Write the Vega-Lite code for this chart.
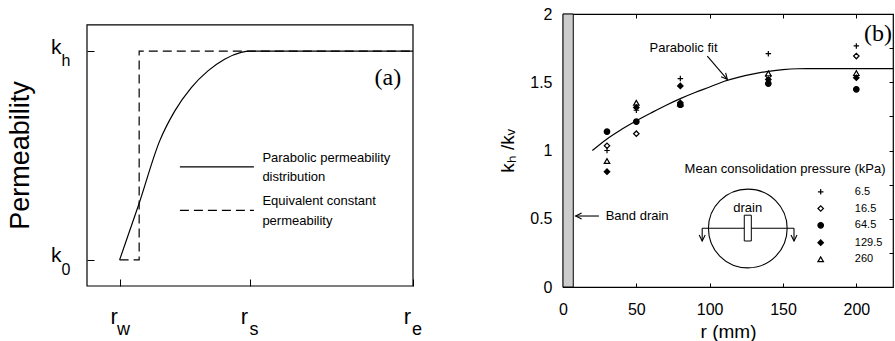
{
  "$schema": "https://vega.github.io/schema/vega-lite/v6.json",
  "background": "white",
  "padding": {"left": 6, "top": 5, "right": 0, "bottom": 0},
  "spacing": 75,
  "bounds": "full",
  "config": {
    "view": {"stroke": "black", "strokeWidth": 1.2},
    "axis": {"domain": false, "grid": false, "labelFont": "Liberation Sans", "titleFont": "Liberation Sans", "labelColor": "black", "titleColor": "black", "tickColor": "black", "tickWidth": 1, "titleFontWeight": "normal"}
  },
  "hconcat": [
    {
      "width": 326,
      "height": 272,
      "view": {"stroke": null},
      "layer": [
        {
          "data": {"values": [{"x0": 0, "x1": 10, "y0": 0, "y1": 10}]},
          "mark": {"type": "rect", "fill": null, "stroke": "black", "strokeWidth": 1.2},
          "encoding": {
            "x": {"field": "x0", "type": "quantitative", "scale": {"domain": [0, 10], "nice": false, "zero": false},
              "axis": {"values": [1, 5, 10], "labelExpr": "'r'", "tickSize": -7, "labelPadding": 44, "labelBaseline": "alphabetic", "labelOffset": -6, "labelFontSize": 22, "labelFlush": false, "title": null}},
            "x2": {"field": "x1"},
            "y": {"field": "y0", "type": "quantitative", "scale": {"domain": [0, 10.42], "nice": false, "zero": false},
              "axis": {"values": [1, 9], "labelExpr": "'k'", "tickSize": -7, "labelPadding": 33, "labelFontSize": 21, "labelOffset": -4, "title": "Permeability", "titleFontSize": 27, "titlePadding": 16, "titleY": 141}},
            "y2": {"field": "y1"}
          }
        },
        {
          "data": {"values": [
            {"x": 1, "y": 1}, {"x": 1.59, "y": 3.13}, {"x": 2.23, "y": 5.56}, {"x": 2.69, "y": 6.7},
            {"x": 3.2, "y": 7.6}, {"x": 3.71, "y": 8.24}, {"x": 4.22, "y": 8.69}, {"x": 4.73, "y": 8.95},
            {"x": 5, "y": 9}, {"x": 10, "y": 9}
          ]},
          "mark": {"type": "line", "color": "black", "strokeWidth": 1.2, "interpolate": "monotone"},
          "encoding": {"x": {"field": "x", "type": "quantitative"}, "y": {"field": "y", "type": "quantitative"}}
        },
        {
          "data": {"values": [{"x": 1, "y": 1}, {"x": 1.6, "y": 1}, {"x": 1.6, "y": 9}, {"x": 10, "y": 9}]},
          "mark": {"type": "line", "color": "black", "strokeWidth": 1.2, "strokeDash": [9, 5]},
          "encoding": {"x": {"field": "x", "type": "quantitative"}, "y": {"field": "y", "type": "quantitative"}, "order": {"field": "x"}}
        },
        {
          "data": {"values": [
            {"x": 2.85, "x2": 5.12, "y": 4.56, "style": "solid"},
            {"x": 2.85, "x2": 5.12, "y": 2.9, "style": "dashed"}
          ]},
          "mark": {"type": "rule", "color": "black", "strokeWidth": 1.2},
          "encoding": {
            "x": {"field": "x", "type": "quantitative"},
            "x2": {"field": "x2"},
            "y": {"field": "y", "type": "quantitative"},
            "strokeDash": {"field": "style", "type": "nominal", "scale": {"domain": ["solid", "dashed"], "range": [[1, 0], [9, 5]]}, "legend": null}
          }
        },
        {
          "data": {"values": [
            {"x": 5.38, "y": 4.92, "t": "Parabolic permeability"},
            {"x": 5.38, "y": 4.18, "t": "distribution"},
            {"x": 5.38, "y": 3.26, "t": "Equivalent constant"},
            {"x": 5.38, "y": 2.49, "t": "permeability"}
          ]},
          "mark": {"type": "text", "align": "left", "baseline": "middle", "font": "Liberation Sans", "fontSize": 13, "color": "black"},
          "encoding": {"x": {"field": "x", "type": "quantitative"}, "y": {"field": "y", "type": "quantitative"}, "text": {"field": "t"}}
        },
        {
          "data": {"values": [{"x": 9.23, "y": 7.97, "t": "(a)"}]},
          "mark": {"type": "text", "align": "center", "baseline": "middle", "font": "Liberation Serif", "fontSize": 24, "color": "black"},
          "encoding": {"x": {"field": "x", "type": "quantitative"}, "y": {"field": "y", "type": "quantitative"}, "text": {"field": "t"}}
        },
        {
          "data": {"values": [{"x": 1, "y": 0, "t": "w"}, {"x": 5, "y": 0, "t": "s"}, {"x": 10, "y": 0, "t": "e"}]},
          "mark": {"type": "text", "align": "center", "baseline": "alphabetic", "dx": 4, "dy": 49, "font": "Liberation Sans", "fontSize": 18, "color": "black"},
          "encoding": {"x": {"field": "x", "type": "quantitative"}, "y": {"field": "y", "type": "quantitative"}, "text": {"field": "t"}}
        },
        {
          "data": {"values": [{"x": 0, "y": 9, "t": "h"}, {"x": 0, "y": 1, "t": "0"}]},
          "mark": {"type": "text", "align": "center", "baseline": "alphabetic", "dx": -21, "dy": 15, "font": "Liberation Sans", "fontSize": 16, "color": "black"},
          "encoding": {"x": {"field": "x", "type": "quantitative"}, "y": {"field": "y", "type": "quantitative"}, "text": {"field": "t"}}
        }
      ]
    },
    {
      "width": 330,
      "height": 273,
      "resolve": {"axis": {"x": "independent", "y": "independent"}},
      "layer": [
        {
          "data": {"values": [{"x0": 0, "x1": 7, "y0": 0, "y1": 2}]},
          "mark": {"type": "rect", "fill": "#cccccc", "stroke": "black", "strokeWidth": 1},
          "encoding": {
            "x": {"field": "x0", "type": "quantitative", "scale": {"domain": [0, 225], "nice": false, "zero": false},
              "axis": {"values": [0, 50, 100, 150, 200], "tickSize": -4, "labelPadding": 18, "labelFontSize": 16, "labelFlush": false, "title": "r (mm)", "titleFontSize": 19, "titlePadding": 5}},
            "x2": {"field": "x1"},
            "y": {"field": "y0", "type": "quantitative", "scale": {"domain": [0, 2], "nice": false, "zero": false},
              "axis": {"values": [0, 0.25, 0.5, 0.75, 1, 1.25, 1.5, 1.75, 2], "labelExpr": "datum.value % 0.5 === 0 ? format(datum.value, '~g') : ''", "tickSize": -4, "labelPadding": 15, "labelFontSize": 16, "title": "kₕ /kᵥ", "titleFontSize": 19, "titlePadding": 12}},
            "y2": {"field": "y1"}
          }
        },
        {
          "data": {"values": [
            {"r": 20, "k": 1.0}, {"r": 30, "k": 1.085}, {"r": 40, "k": 1.155}, {"r": 50, "k": 1.218},
            {"r": 60, "k": 1.275}, {"r": 70, "k": 1.33}, {"r": 80, "k": 1.38}, {"r": 90, "k": 1.425},
            {"r": 100, "k": 1.465}, {"r": 110, "k": 1.507}, {"r": 120, "k": 1.538}, {"r": 130, "k": 1.562},
            {"r": 140, "k": 1.58}, {"r": 150, "k": 1.593}, {"r": 160, "k": 1.599}, {"r": 170, "k": 1.6}, {"r": 225, "k": 1.6}
          ]},
          "mark": {"type": "line", "color": "black", "strokeWidth": 1.2, "interpolate": "monotone"},
          "encoding": {
            "x": {"field": "r", "type": "quantitative", "axis": {"orient": "top", "values": [0, 50, 100, 150, 200], "labels": false, "tickSize": -4, "title": null, "minExtent": 0, "maxExtent": 0}},
            "y": {"field": "k", "type": "quantitative", "axis": {"orient": "right", "values": [0, 0.25, 0.5, 0.75, 1, 1.25, 1.5, 1.75, 2], "labels": false, "tickSize": -4, "title": null, "minExtent": 0, "maxExtent": 0}}
          }
        },
        {
          "data": {"values": [
            {"r": 30, "k": 1.035, "p": "16.5"}, {"r": 30, "k": 0.923, "p": "260"}, {"r": 30, "k": 1.0, "p": "6.5"}, {"r": 30, "k": 0.845, "p": "129.5"}, {"r": 30, "k": 1.138, "p": "64.5"},
            {"r": 50, "k": 1.123, "p": "16.5"}, {"r": 50, "k": 1.35, "p": "260"}, {"r": 50, "k": 1.295, "p": "6.5"}, {"r": 50, "k": 1.315, "p": "129.5"}, {"r": 50, "k": 1.211, "p": "64.5"},
            {"r": 80, "k": 1.35, "p": "16.5"}, {"r": 80, "k": 1.345, "p": "260"}, {"r": 80, "k": 1.527, "p": "6.5"}, {"r": 80, "k": 1.473, "p": "129.5"}, {"r": 80, "k": 1.335, "p": "64.5"},
            {"r": 140, "k": 1.545, "p": "16.5"}, {"r": 140, "k": 1.565, "p": "260"}, {"r": 140, "k": 1.709, "p": "6.5"}, {"r": 140, "k": 1.52, "p": "129.5"}, {"r": 140, "k": 1.49, "p": "64.5"},
            {"r": 200, "k": 1.692, "p": "16.5"}, {"r": 200, "k": 1.567, "p": "260"}, {"r": 200, "k": 1.766, "p": "6.5"}, {"r": 200, "k": 1.533, "p": "129.5"}, {"r": 200, "k": 1.448, "p": "64.5"},
            {"r": 175.7, "k": 0.697, "p": "6.5"}, {"r": 175.7, "k": 0.575, "p": "16.5"}, {"r": 175.7, "k": 0.452, "p": "64.5"}, {"r": 175.7, "k": 0.325, "p": "129.5"}, {"r": 175.7, "k": 0.203, "p": "260"}
          ]},
          "mark": {"type": "point", "stroke": "black", "strokeWidth": 1.2, "opacity": 1, "size": 30},
          "encoding": {
            "x": {"field": "r", "type": "quantitative", "axis": null},
            "y": {"field": "k", "type": "quantitative", "axis": null},
            "shape": {"field": "p", "type": "nominal", "legend": null,
              "scale": {"domain": ["6.5", "16.5", "64.5", "129.5", "260"], "range": ["M-1,0L1,0M0,-1L0,1", "diamond", "circle", "diamond", "triangle-up"]}},
            "fill": {"field": "p", "type": "nominal", "legend": null,
              "scale": {"domain": ["6.5", "16.5", "64.5", "129.5", "260"], "range": ["transparent", "white", "black", "black", "white"]}}
          }
        },
        {
          "data": {"values": [
            {"r": 199, "k": 0.697, "t": "6.5"}, {"r": 199, "k": 0.575, "t": "16.5"}, {"r": 199, "k": 0.452, "t": "64.5"}, {"r": 199, "k": 0.325, "t": "129.5"}, {"r": 199, "k": 0.203, "t": "260"}
          ]},
          "mark": {"type": "text", "align": "left", "baseline": "middle", "font": "Liberation Sans", "fontSize": 11, "color": "black"},
          "encoding": {"x": {"field": "r", "type": "quantitative", "axis": null}, "y": {"field": "k", "type": "quantitative", "axis": null}, "text": {"field": "t"}}
        },
        {
          "data": {"values": [
            {"x": 98.4, "y": 1.692, "x2": 112, "y2": 1.521},
            {"x": 8.6, "y": 0.52, "x2": 24.5, "y2": 0.52},
            {"x": 94.9, "y": 0.43, "x2": 157.5, "y2": 0.43},
            {"x": 94.9, "y": 0.43, "x2": 94.9, "y2": 0.337},
            {"x": 157.5, "y": 0.43, "x2": 157.5, "y2": 0.337}
          ]},
          "mark": {"type": "rule", "color": "black", "strokeWidth": 1.1},
          "encoding": {"x": {"field": "x", "type": "quantitative", "axis": null}, "y": {"field": "y", "type": "quantitative", "axis": null}, "x2": {"field": "x2"}, "y2": {"field": "y2"}}
        },
        {
          "data": {"values": [{"x": 110.7, "y": 1.538}]},
          "mark": {"type": "point", "shape": "M-1,1L0,-1L1,1", "size": 36, "angle": 139, "stroke": "black", "strokeWidth": 1.1, "filled": false, "opacity": 1},
          "encoding": {"x": {"field": "x", "type": "quantitative", "axis": null}, "y": {"field": "y", "type": "quantitative", "axis": null}}
        },
        {
          "data": {"values": [{"x": 10.65, "y": 0.52}]},
          "mark": {"type": "point", "shape": "M1,-1L-1,0L1,1", "size": 36, "stroke": "black", "strokeWidth": 1.1, "filled": false, "opacity": 1},
          "encoding": {"x": {"field": "x", "type": "quantitative", "axis": null}, "y": {"field": "y", "type": "quantitative", "axis": null}}
        },
        {
          "data": {"values": [{"x": 94.9, "y": 0.359}, {"x": 157.5, "y": 0.359}]},
          "mark": {"type": "point", "shape": "M-1,-1L0,1L1,-1", "size": 36, "stroke": "black", "strokeWidth": 1.1, "filled": false, "opacity": 1},
          "encoding": {"x": {"field": "x", "type": "quantitative", "axis": null}, "y": {"field": "y", "type": "quantitative", "axis": null}}
        },
        {
          "data": {"values": [{"x": 126.0, "y": 0.4286}]},
          "mark": {"type": "point", "shape": "circle", "size": 6194, "stroke": "black", "strokeWidth": 1.1, "filled": false, "opacity": 1},
          "encoding": {"x": {"field": "x", "type": "quantitative", "axis": null}, "y": {"field": "y", "type": "quantitative", "axis": null}}
        },
        {
          "data": {"values": [{"x0": 123.6, "x1": 128.4, "y0": 0.337, "y1": 0.526}]},
          "mark": {"type": "rect", "fill": "white", "stroke": "black", "strokeWidth": 1},
          "encoding": {"x": {"field": "x0", "type": "quantitative", "axis": null}, "x2": {"field": "x1"}, "y": {"field": "y0", "type": "quantitative", "axis": null}, "y2": {"field": "y1"}}
        },
        {
          "data": {"values": [
            {"x": 82.2, "y": 1.753, "t": "Parabolic fit"},
            {"x": 151.4, "y": 0.863, "t": "Mean consolidation pressure (kPa)"},
            {"x": 125.9, "y": 0.581, "t": "drain"}
          ]},
          "mark": {"type": "text", "align": "center", "baseline": "middle", "font": "Liberation Sans", "fontSize": 13, "color": "black"},
          "encoding": {"x": {"field": "x", "type": "quantitative", "axis": null}, "y": {"field": "y", "type": "quantitative", "axis": null}, "text": {"field": "t"}}
        },
        {
          "data": {"values": [{"x": 29.1, "y": 0.52, "t": "Band drain"}]},
          "mark": {"type": "text", "align": "left", "baseline": "middle", "font": "Liberation Sans", "fontSize": 13, "color": "black"},
          "encoding": {"x": {"field": "x", "type": "quantitative", "axis": null}, "y": {"field": "y", "type": "quantitative", "axis": null}, "text": {"field": "t"}}
        },
        {
          "data": {"values": [{"x": 214.8, "y": 1.857, "t": "(b)"}]},
          "mark": {"type": "text", "align": "center", "baseline": "middle", "font": "Liberation Serif", "fontSize": 24, "color": "black"},
          "encoding": {"x": {"field": "x", "type": "quantitative", "axis": null}, "y": {"field": "y", "type": "quantitative", "axis": null}, "text": {"field": "t"}}
        }
      ]
    }
  ]
}
